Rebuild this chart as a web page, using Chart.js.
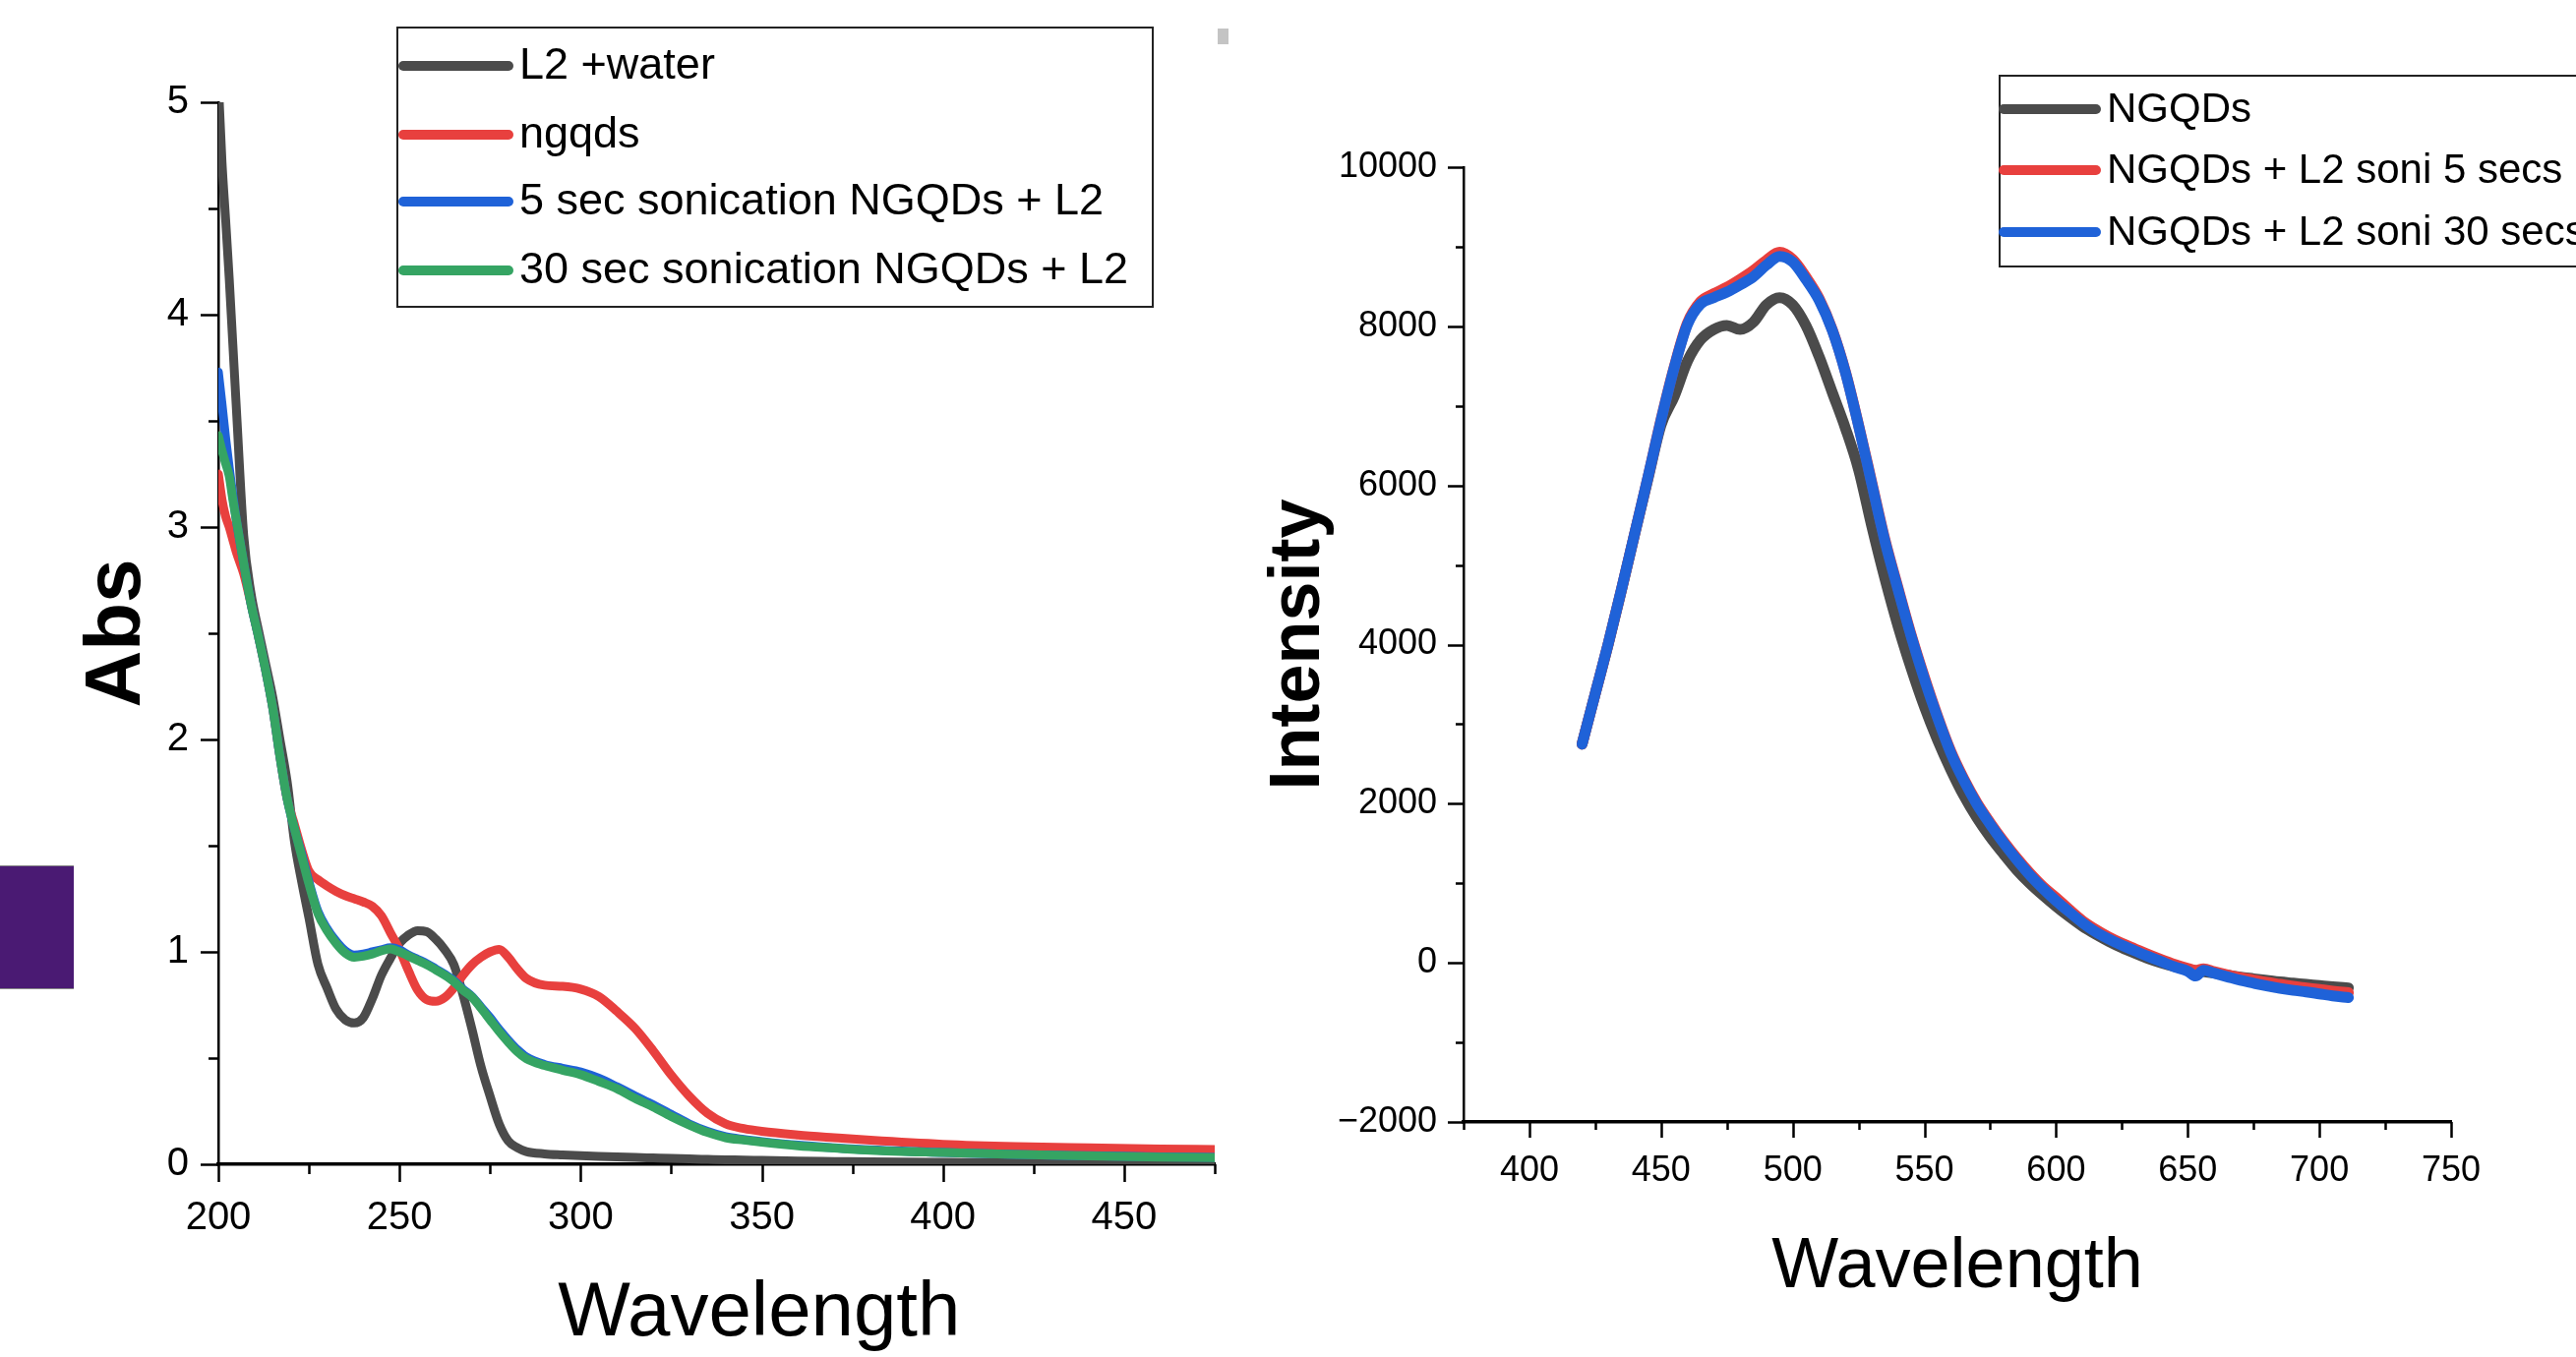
<!DOCTYPE html>
<html>
<head>
<meta charset="utf-8">
<title>Abs and PL spectra</title>
<script src="https://cdn.jsdelivr.net/npm/chart.js"></script>
<style>
  html, body { margin: 0; padding: 0; background: #fff; overflow: hidden; }
  body { width: 2619px; height: 1380px; position: relative; }
  canvas { position: absolute; top: 0; }
  #absChart { left: 0; }
  #plChart { left: 1260px; }
  .tab { position: absolute; left: 0; top: 880px; width: 75px; height: 124px; background: #4a1a73; border-top: 1px solid #888; border-bottom: 1px solid #888; }
  .speck { position: absolute; left: 1238px; top: 29px; width: 11px; height: 16px; background: #c4c4c4; }
</style>
</head>
<body>
<canvas id="absChart" width="1260" height="1380"></canvas>
<canvas id="plChart" width="1359" height="1380"></canvas>
<div class="tab"></div>
<div class="speck"></div>
<script>
// UV-vis absorbance (left panel)
const absWavelength = [200, 201, 202, 203, 204, 205, 207, 209, 211, 213, 215, 217, 219, 221, 223, 225,
  227.5, 230, 232.5, 235, 237.5, 240, 242.5, 245, 247.5, 250, 252.5, 255, 257.5, 260, 262.5, 265,
  267.5, 270, 272.5, 275, 277.5, 280, 282.5, 285, 290, 295, 300, 305, 310, 315, 320, 325, 330,
  335, 340, 345, 350, 360, 370, 380, 400, 420, 440, 460, 475];
const absL2Water = [5.1, 4.72, 4.45, 4.17, 3.86, 3.55, 2.96, 2.69, 2.52, 2.36, 2.2, 2.0, 1.8, 1.52, 1.33, 1.16,
  0.94, 0.83, 0.73, 0.68, 0.665, 0.69, 0.78, 0.89, 0.97, 1.04, 1.08, 1.1, 1.095, 1.06, 1.01, 0.94,
  0.8, 0.636, 0.46, 0.32, 0.19, 0.11, 0.078, 0.06, 0.049, 0.044, 0.04, 0.037, 0.035, 0.032, 0.03, 0.028, 0.025,
  0.023, 0.021, 0.02, 0.018, 0.015, 0.013, 0.011, 0.009, 0.008, 0.007, 0.006, 0.005];
const absNgqds = [3.25, 3.13, 3.05, 3.0, 2.94, 2.88, 2.78, 2.64, 2.49, 2.33, 2.15, 1.92, 1.72, 1.6, 1.48, 1.38,
  1.34, 1.31, 1.285, 1.265, 1.25, 1.235, 1.215, 1.17, 1.09, 1.01, 0.91, 0.82, 0.775, 0.767, 0.785, 0.83,
  0.89, 0.94, 0.975, 1.0, 1.012, 0.975, 0.92, 0.875, 0.843, 0.838, 0.825, 0.79, 0.72, 0.64, 0.535, 0.42, 0.32,
  0.24, 0.19, 0.168, 0.155, 0.138, 0.125, 0.113, 0.094, 0.083, 0.077, 0.072, 0.069];
const abs5sec = [3.73, 3.58, 3.42, 3.28, 3.15, 3.03, 2.83, 2.64, 2.49, 2.33, 2.15, 1.92, 1.72, 1.58, 1.46, 1.33,
  1.19, 1.11, 1.05, 1.005, 0.985, 0.99, 1.0, 1.01, 1.02, 1.01, 0.985, 0.965, 0.945, 0.92, 0.895, 0.865,
  0.825, 0.79, 0.74, 0.69, 0.635, 0.585, 0.54, 0.505, 0.47, 0.452, 0.435, 0.405, 0.365, 0.322, 0.28, 0.235, 0.19,
  0.155, 0.13, 0.117, 0.107, 0.09, 0.078, 0.068, 0.055, 0.046, 0.04, 0.035, 0.032];
const abs30sec = [3.43, 3.36, 3.3, 3.24, 3.13, 3.03, 2.83, 2.64, 2.49, 2.33, 2.15, 1.92, 1.72, 1.58, 1.45, 1.32,
  1.18, 1.1, 1.04, 0.995, 0.975, 0.98, 0.99, 1.005, 1.014, 1.0, 0.98, 0.96, 0.94, 0.915, 0.89, 0.86,
  0.82, 0.787, 0.735, 0.68, 0.625, 0.575, 0.53, 0.497, 0.465, 0.443, 0.422, 0.39, 0.356, 0.31, 0.27, 0.225, 0.185,
  0.15, 0.125, 0.114, 0.104, 0.087, 0.076, 0.066, 0.055, 0.046, 0.039, 0.034, 0.031];

// Photoluminescence (right panel)
const plWavelength = [420, 425, 430, 435, 440, 445, 450, 455, 460, 465, 470, 475, 480, 485, 490, 495,
  500, 505, 510, 515, 520, 525, 530, 535, 540, 545, 550, 555, 560, 565, 570, 575, 580, 585, 590, 595,
  600, 605, 610, 615, 620, 625, 630, 635, 640, 645, 650, 653, 656, 660, 665, 670, 675, 680, 685, 690,
  695, 700, 705, 711];
const plNgqds = [2750, 3380, 4010, 4690, 5390, 6080, 6760, 7120, 7560, 7830, 7960, 8010, 7960, 8050, 8270, 8360,
  8270, 8010, 7620, 7170, 6720, 6200, 5490, 4830, 4230, 3700, 3220, 2800, 2430, 2100, 1820, 1580, 1370, 1170, 1000, 850,
  710, 580, 460, 360, 270, 190, 120, 55, 0, -45, -80, -100, -110, -130, -155, -180, -200, -220, -240, -255,
  -270, -285, -300, -315];
const plSoni5 = [2750, 3385, 4020, 4700, 5400, 6100, 6830, 7490, 8040, 8310, 8410, 8490, 8590, 8700, 8830, 8930,
  8840, 8620, 8350, 7960, 7430, 6760, 6040, 5320, 4710, 4120, 3590, 3100, 2660, 2310, 2010, 1760, 1530, 1320, 1130, 960,
  820, 670, 530, 420, 325, 245, 175, 105, 40, -20, -70, -95, -75, -110, -150, -185, -215, -245, -270, -295,
  -315, -335, -355, -375];
const plSoni30 = [2750, 3385, 4020, 4700, 5400, 6100, 6820, 7480, 8020, 8280, 8360, 8430, 8520, 8620, 8770, 8880,
  8810, 8590, 8330, 7950, 7420, 6750, 6020, 5300, 4690, 4100, 3565, 3080, 2640, 2290, 1990, 1740, 1510, 1300, 1105, 935,
  780, 640, 505, 390, 300, 220, 150, 80, 15, -50, -105, -165, -95, -130, -175, -220, -255, -290, -320, -345,
  -365, -390, -415, -437];

const colBlack = '#4b4b4b';
const colRed = '#e8403e';
const colBlue = '#1f62d8';
const colGreen = '#35a463';

const sans = "'Liberation Sans', Arial, sans-serif";

Chart.defaults.font.family = sans;
Chart.defaults.color = '#000';

function pairs(xs, ys) {
  return xs.map((x, i) => ({ x: x, y: ys[i] }));
}

function series(label, xs, ys, color, order, width) {
  return {
    label: label,
    data: pairs(xs, ys),
    borderColor: color,
    backgroundColor: color,
    borderWidth: width,
    pointRadius: 0,
    fill: false,
    cubicInterpolationMode: 'monotone',
    borderCapStyle: 'round',
    borderJoinStyle: 'round',
    order: order
  };
}

function tickLabel(v) {
  return String(v).replace('-', '\u2212');
}

// outward major + minor tick marks along both axes
const tickMarks = {
  id: 'tickMarks',
  afterDraw(chart, args, opts) {
    const ctx = chart.ctx;
    const area = chart.chartArea;
    const xs = chart.scales.x;
    const ys = chart.scales.y;
    ctx.save();
    ctx.strokeStyle = '#000';
    ctx.lineWidth = 2.5;
    ctx.beginPath();
    for (let v = xs.min; v <= xs.max + 1e-9; v += opts.xStep / 2) {
      const p = Math.round(xs.getPixelForValue(v)) + 0.5;
      const len = Math.abs(v / opts.xStep - Math.round(v / opts.xStep)) < 1e-6 ? opts.major : opts.minor;
      ctx.moveTo(p, area.bottom);
      ctx.lineTo(p, area.bottom + len);
    }
    for (let v = ys.min; v <= ys.max + 1e-9; v += opts.yStep / 2) {
      const p = Math.round(ys.getPixelForValue(v)) + 0.5;
      const len = Math.abs(v / opts.yStep - Math.round(v / opts.yStep)) < 1e-6 ? opts.major : opts.minor;
      ctx.moveTo(area.left, p);
      ctx.lineTo(area.left - len, p);
    }
    ctx.stroke();
    ctx.restore();
  }
};

// framed legend placed like the original figure
const boxLegend = {
  id: 'boxLegend',
  afterDraw(chart, args, opts) {
    const ctx = chart.ctx;
    const [l, t, r, b] = opts.box;
    ctx.save();
    ctx.strokeStyle = '#222';
    ctx.lineWidth = 2;
    ctx.strokeRect(l, t, r - l, b - t);
    ctx.font = opts.fontSize + 'px ' + sans;
    ctx.textBaseline = 'middle';
    ctx.textAlign = 'left';
    chart.data.datasets.forEach((ds, i) => {
      const y = opts.rows[i];
      ctx.strokeStyle = ds.borderColor;
      ctx.lineWidth = opts.lineWidth;
      ctx.lineCap = 'round';
      ctx.beginPath();
      ctx.moveTo(opts.sample[0], y);
      ctx.lineTo(opts.sample[1], y);
      ctx.stroke();
      ctx.fillStyle = '#000';
      ctx.fillText(ds.label, opts.textX, y + 1);
    });
    ctx.restore();
  }
};

new Chart(document.getElementById('absChart'), {
  type: 'line',
  data: {
    datasets: [
      series('L2 +water', absWavelength, absL2Water, colBlack, 4, 9),
      series('ngqds', absWavelength, absNgqds, colRed, 3, 9),
      series('5 sec sonication NGQDs + L2', absWavelength, abs5sec, colBlue, 2, 9),
      series('30 sec sonication NGQDs + L2', absWavelength, abs30sec, colGreen, 1, 9)
    ]
  },
  options: {
    responsive: false,
    animation: false,
    devicePixelRatio: 1,
    layout: { padding: { left: 0, right: 25, top: 104, bottom: 0 } },
    plugins: {
      legend: { display: false },
      tooltip: { enabled: false },
      tickMarks: { xStep: 50, yStep: 1, major: 18, minor: 10 },
      boxLegend: {
        box: [404, 28, 1172, 312],
        sample: [410, 517],
        textX: 528,
        rows: [67, 137, 205, 275],
        fontSize: 45,
        lineWidth: 10
      }
    },
    scales: {
      x: {
        type: 'linear',
        min: 200,
        max: 475,
        afterFit: s => { s.height = 196; },
        grid: { display: false, drawTicks: false },
        border: { display: true, color: '#000', width: 3.5 },
        ticks: { stepSize: 50, includeBounds: false, autoSkip: false, maxRotation: 0, padding: 31, font: { size: 40 }, callback: tickLabel },
        title: { display: true, text: '    Wavelength', font: { size: 78, lineHeight: 1 }, padding: { top: 0, bottom: 5 } }
      },
      y: {
        min: 0,
        max: 5,
        afterFit: s => { s.width = 222; },
        grid: { display: false, drawTicks: false },
        border: { display: true, color: '#000', width: 2.5 },
        ticks: { stepSize: 1, autoSkip: false, padding: 30, font: { size: 40 }, callback: tickLabel },
        title: { display: true, text: 'Abs', font: { size: 80, weight: 'bold', lineHeight: 1 }, padding: { top: 80, bottom: 0 } }
      }
    }
  },
  plugins: [tickMarks, boxLegend]
});

new Chart(document.getElementById('plChart'), {
  type: 'line',
  data: {
    datasets: [
      series('NGQDs', plWavelength, plNgqds, colBlack, 3, 11),
      series('NGQDs + L2 soni 5 secs', plWavelength, plSoni5, colRed, 2, 11),
      series('NGQDs + L2 soni 30 secs', plWavelength, plSoni30, colBlue, 1, 11)
    ]
  },
  options: {
    responsive: false,
    animation: false,
    devicePixelRatio: 1,
    layout: { padding: { left: 0, right: 127, top: 170, bottom: 0 } },
    plugins: {
      legend: { display: false },
      tooltip: { enabled: false },
      tickMarks: { xStep: 50, yStep: 2000, major: 16, minor: 8 },
      boxLegend: {
        box: [773, 77, 1400, 271],
        sample: [777, 871],
        textX: 882,
        rows: [111, 173, 236],
        fontSize: 42,
        lineWidth: 10
      }
    },
    scales: {
      x: {
        type: 'linear',
        min: 375,
        max: 750,
        afterFit: s => { s.height = 239; },
        grid: { display: false, drawTicks: false },
        border: { display: true, color: '#000', width: 3.5 },
        ticks: { stepSize: 50, includeBounds: false, autoSkip: false, maxRotation: 0, padding: 28, font: { size: 36 }, callback: tickLabel },
        title: { display: true, text: 'Wavelength', font: { size: 72, lineHeight: 1 }, padding: { top: 0, bottom: 55 } }
      },
      y: {
        min: -2000,
        max: 10000,
        afterFit: s => { s.width = 228; },
        grid: { display: false, drawTicks: false },
        border: { display: true, color: '#000', width: 2.5 },
        ticks: { stepSize: 2000, autoSkip: false, padding: 27, font: { size: 36 }, callback: tickLabel },
        title: { display: true, text: 'Intensity', font: { size: 72, weight: 'bold', lineHeight: 1 }, padding: { top: 25, bottom: 0 } }
      }
    }
  },
  plugins: [tickMarks, boxLegend]
});
</script>
</body>
</html>
